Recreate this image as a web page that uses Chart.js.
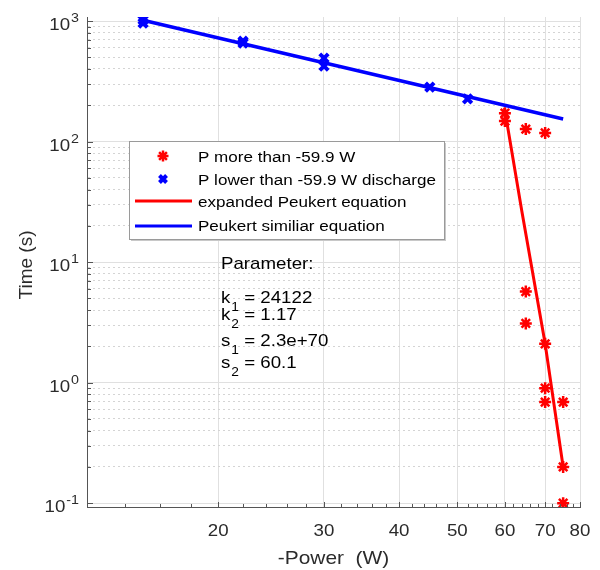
<!DOCTYPE html>
<html>
<head>
<meta charset="utf-8">
<script src="https://cdn.jsdelivr.net/npm/chart.js@4.4.1/dist/chart.umd.min.js"></script>
<style>
  html, body { margin: 0; padding: 0; background: #fff; }
</style>
</head>
<body>
<canvas id="peukert" width="600" height="570"></canvas>
<script>
/* data */
const RED_POWER = [60, 60, 65, 70, 65, 65, 70, 70, 70, 75, 75, 75];
const RED_TIME  = [172, 148, 127, 118, 5.7, 3.1, 2.1, 0.9, 0.69, 0.69, 0.2, 0.1];

const BLUE_POWER = [15, 15, 22, 22, 30, 30, 45, 52];
const BLUE_TIME  = [1020, 960, 680, 655, 493, 423, 283, 226];

const RED_FIT_POWER = [59.9, 64, 70, 75];
const RED_FIT_TIME  = [190, 26.7, 2.1, 0.2];

const BLUE_FIT_POWER = [15, 75];
const BLUE_FIT_TIME  = [1015, 154];

const X_TICKS = [20, 30, 40, 50, 60, 70, 80];
const X_MINOR = [14, 16, 18, 22, 24, 26, 28, 32, 34, 36, 38, 42, 44, 46, 48, 52, 54, 56, 58, 62, 64, 66, 68, 72, 74, 76, 78];
const Y_TICKS = [0.1, 1, 10, 100, 1000];
const Y_EXP   = ['-1', '0', '1', '2', '3'];
const Y_MINOR = [];
[0.1, 1, 10, 100].forEach(d => { for (let m = 2; m <= 9; m++) Y_MINOR.push(+(m * d).toPrecision(2)); });

const LEGEND_LABELS = [
    'P more than -59.9 W',
    'P lower than -59.9 W discharge',
    'expanded Peukert equation',
    'Peukert similiar equation'
];
const PARAMS = [
    ['k', '1', ' = 24122'],
    ['k', '2', ' = 1.17'],
    ['s', '1', ' = 2.3e+70'],
    ['s', '2', ' = 60.1']
];

const RED = '#ff0000';
const BLUE = '#0000ff';
const FONT = '"Liberation Sans", Arial, Helvetica, sans-serif';
const SX = 1.1; // the reference text is a bit wider than Arial

function toPoints(xs, ys) {
    return xs.map((x, i) => ({ x: x, y: ys[i] }));
}

// stretched text helper, returns drawn width
function stext(c, str, x, y, align, size) {
    c.save();
    c.font = size + 'px ' + FONT;
    c.textAlign = 'left';
    c.textBaseline = 'alphabetic';
    const w = c.measureText(str).width * SX;
    let x0 = x;
    if (align === 'right') x0 = x - w;
    if (align === 'center') x0 = x - w / 2;
    c.translate(x0, y);
    c.scale(SX, 1);
    c.fillText(str, 0, 0);
    c.restore();
    return w;
}

/* axes decorations, legend and parameter box */
const decorPlugin = {
    id: 'decor',
    afterDraw(chart) {
        const c = chart.ctx;
        const xs = chart.scales.x;
        const ys = chart.scales.y;
        const area = chart.chartArea;

        // inward tick marks
        c.save();
        c.strokeStyle = '#555';
        c.lineWidth = 1;
        c.beginPath();
        Y_TICKS.forEach(v => {
            const p = Math.round(ys.getPixelForValue(v)) + 0.5;
            c.moveTo(area.left, p); c.lineTo(area.left + 6, p);
        });
        Y_MINOR.forEach(v => {
            const p = Math.round(ys.getPixelForValue(v)) + 0.5;
            c.moveTo(area.left, p); c.lineTo(area.left + 4, p);
        });
        X_TICKS.forEach(v => {
            const p = Math.round(xs.getPixelForValue(v)) + 0.5;
            c.moveTo(p, area.bottom); c.lineTo(p, area.bottom - 5);
        });
        X_MINOR.forEach(v => {
            const p = Math.round(xs.getPixelForValue(v)) + 0.5;
            c.moveTo(p, area.bottom); c.lineTo(p, area.bottom - 3);
        });
        c.stroke();
        c.restore();

        c.save();
        c.fillStyle = '#2b2b2b';
        // y tick labels 10^n
        Y_TICKS.forEach((v, i) => {
            const p = ys.getPixelForValue(v);
            const right = area.left - 8;
            const ew = stext(c, Y_EXP[i], right, p + 1, 'right', 13);
            stext(c, '10', right - ew - 1, p + 9, 'right', 17);
        });
        // x tick labels
        X_TICKS.forEach(v => {
            stext(c, String(v), xs.getPixelForValue(v), area.bottom + 29, 'center', 17);
        });
        // axis titles
        stext(c, '-Power  (W)', (area.left + area.right) / 2, 564, 'center', 19);
        c.save();
        c.translate(32, 265);
        c.rotate(-Math.PI / 2);
        c.font = '19px ' + FONT;
        c.textAlign = 'center';
        c.fillText('Time (s)', 0, 0);
        c.restore();
        c.restore();

        // parameter text
        c.save();
        c.fillStyle = '#000';
        stext(c, 'Parameter:', 221, 269, 'left', 17);
        const baselines = [303, 320, 346, 368];
        PARAMS.forEach((p, i) => {
            const b = baselines[i];
            let x = 221;
            x += stext(c, p[0], x, b, 'left', 17);
            const sw = stext(c, p[1], x + 1, b + 8, 'left', 12.5);
            stext(c, p[2], x + 1 + sw, b, 'left', 17);
        });
        c.restore();

        // legend
        const L = { x: 129, y: 141, w: 315, h: 98 };
        c.save();
        c.fillStyle = '#c8c8c8';
        c.fillRect(L.x + 2, L.y + 2, L.w, L.h);
        c.fillStyle = '#fff';
        c.fillRect(L.x, L.y, L.w, L.h);
        c.strokeStyle = '#9a9a9a';
        c.lineWidth = 1;
        c.strokeRect(L.x + 0.5, L.y + 0.5, L.w, L.h);

        const rows = [156, 179, 201, 226];
        const baseRows = [162, 185, 207, 231];
        c.strokeStyle = RED;
        c.lineWidth = 2.5;
        Chart.helpers.drawPoint(c, { pointStyle: 'star', radius: 5.5, borderWidth: 2.5 }, 163, rows[0]);
        c.strokeStyle = BLUE;
        c.lineWidth = 4;
        Chart.helpers.drawPoint(c, { pointStyle: 'crossRot', radius: 5, borderWidth: 4 }, 163, rows[1]);
        c.lineCap = 'butt';
        c.lineWidth = 3;
        c.strokeStyle = RED;
        c.beginPath(); c.moveTo(135, rows[2]); c.lineTo(192, rows[2]); c.stroke();
        c.strokeStyle = BLUE;
        c.beginPath(); c.moveTo(135, rows[3]); c.lineTo(192, rows[3]); c.stroke();

        c.fillStyle = '#000';
        LEGEND_LABELS.forEach((t, i) => stext(c, t, 198, baseRows[i], 'left', 15.5));
        c.restore();
    }
};

const ctx = document.getElementById('peukert').getContext('2d');

new Chart(ctx, {
    type: 'scatter',
    data: {
        datasets: [
            {
                label: 'Peukert similiar equation',
                data: toPoints(BLUE_FIT_POWER, BLUE_FIT_TIME),
                showLine: true,
                borderColor: BLUE,
                borderWidth: 3.5,
                pointRadius: 0,
                order: 0
            },
            {
                label: 'expanded Peukert equation',
                data: toPoints(RED_FIT_POWER, RED_FIT_TIME),
                showLine: true,
                borderColor: RED,
                borderWidth: 3,
                pointRadius: 0,
                order: 1
            },
            {
                label: 'P lower than -59.9 W discharge',
                data: toPoints(BLUE_POWER, BLUE_TIME),
                pointStyle: 'crossRot',
                pointRadius: 6,
                borderWidth: 4,
                borderColor: BLUE,
                backgroundColor: BLUE,
                order: 2
            },
            {
                label: 'P more than -59.9 W',
                data: toPoints(RED_POWER, RED_TIME),
                pointStyle: 'star',
                pointRadius: 6,
                borderWidth: 2.5,
                borderColor: RED,
                backgroundColor: RED,
                order: 3
            }
        ]
    },
    options: {
        responsive: false,
        animation: false,
        devicePixelRatio: 1,
        layout: { padding: { left: 0, top: 17, right: 20, bottom: 0 } },
        plugins: {
            legend: { display: false },
            tooltip: { enabled: false }
        },
        scales: {
            x: {
                type: 'logarithmic',
                min: 12.1,
                max: 80,
                afterFit: s => { s.height = 63; },
                afterBuildTicks: s => { s.ticks = X_TICKS.map(v => ({ value: v, major: true })); },
                ticks: { display: false },
                grid: { color: '#e0e0e0', drawTicks: false },
                border: { display: true, color: '#555' }
            },
            y: {
                type: 'logarithmic',
                min: 0.093,
                max: 1080,
                afterFit: s => { s.width = 87; },
                afterBuildTicks: s => {
                    s.ticks = Y_TICKS.map(v => ({ value: v, major: true }))
                        .concat(Y_MINOR.map(v => ({ value: v, major: false })));
                },
                ticks: { display: false },
                grid: {
                    drawTicks: false,
                    color: c => (c.tick && c.tick.major) ? '#e0e0e0' : '#d4d4d4'
                },
                border: {
                    display: true,
                    color: '#555',
                    dash: c => (c.tick && c.tick.major) ? [] : [2, 3]
                }
            }
        }
    },
    plugins: [decorPlugin]
});
</script>
</body>
</html>
